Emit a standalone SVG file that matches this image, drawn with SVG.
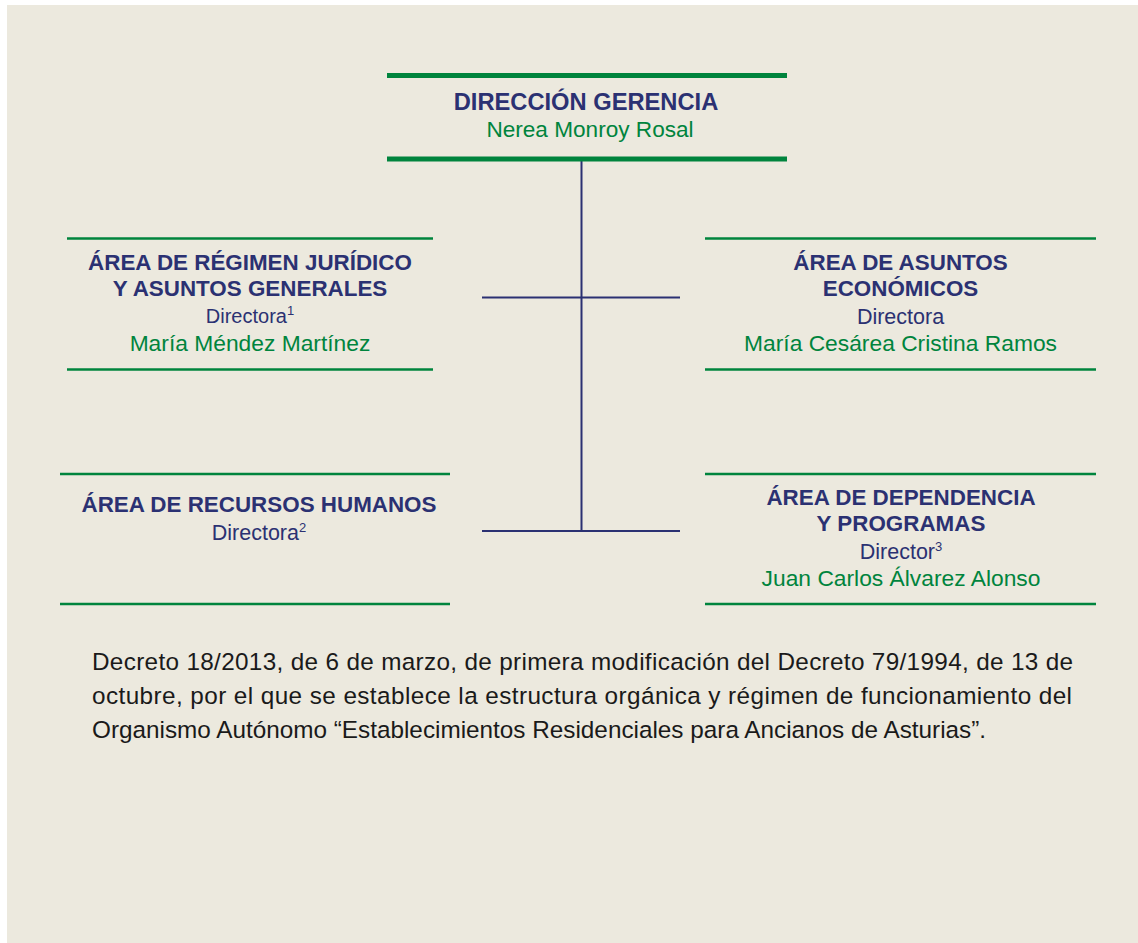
<svg xmlns="http://www.w3.org/2000/svg" width="1138" height="943" viewBox="0 0 1138 943">
<style>
.bg{fill:#ECE9DE}
.gthick{stroke:#00843D;stroke-width:5}
.gthin{stroke:#00843D;stroke-width:2.5}
.conn{stroke:#2B3172;stroke-width:2;fill:none}
text{font-family:"Liberation Sans",Arial,sans-serif;text-anchor:middle}
.h{font-weight:bold;fill:#2B3172;font-size:22.4px}
.r{fill:#2B3172;font-size:21.5px}
.n{fill:#00843D;font-size:22.8px}
.sup{font-size:13px}
.body{fill:#1A1A1A;font-size:24.3px;text-anchor:start}
</style>
<rect class="bg" x="7" y="5" width="1131" height="938"/>
<g id="connectors">
<line class="conn" x1="581.5" y1="161" x2="581.5" y2="531"/>
<line class="conn" x1="482" y1="297.5" x2="680" y2="297.5"/>
<line class="conn" x1="482" y1="531" x2="680" y2="531"/>
</g>
<g id="direccion">
<line class="gthick" x1="387" y1="75.5" x2="787" y2="75.5"/>
<line class="gthick" x1="387" y1="159" x2="787" y2="159"/>
<text class="h" x="586" y="110" style="font-size:23.7px">DIRECCIÓN GERENCIA</text>
<text class="n" x="590" y="137" style="font-size:22.6px">Nerea Monroy Rosal</text>
</g>
<g id="juridico">
<line class="gthin" x1="67" y1="238.5" x2="433" y2="238.5"/>
<line class="gthin" x1="67" y1="369.5" x2="433" y2="369.5"/>
<text class="h" x="250" y="270">ÁREA DE RÉGIMEN JURÍDICO</text>
<text class="h" x="250" y="296">Y ASUNTOS GENERALES</text>
<text class="r" x="250" y="323" style="font-size:20px">Directora<tspan class="sup" dy="-8">1</tspan></text>
<text class="n" x="250" y="351">María Méndez Martínez</text>
</g>
<g id="economicos">
<line class="gthin" x1="705" y1="238.5" x2="1096" y2="238.5"/>
<line class="gthin" x1="705" y1="369.5" x2="1096" y2="369.5"/>
<text class="h" x="900.5" y="270">ÁREA DE ASUNTOS</text>
<text class="h" x="900.5" y="296">ECONÓMICOS</text>
<text class="r" x="900.5" y="324">Directora</text>
<text class="n" x="900.5" y="351">María Cesárea Cristina Ramos</text>
</g>
<g id="rrhh">
<line class="gthin" x1="60" y1="474" x2="450" y2="474"/>
<line class="gthin" x1="60" y1="604" x2="450" y2="604"/>
<text class="h" x="259" y="512">ÁREA DE RECURSOS HUMANOS</text>
<text class="r" x="259" y="540">Directora<tspan class="sup" dy="-8">2</tspan></text>
</g>
<g id="dependencia">
<line class="gthin" x1="705" y1="474" x2="1096" y2="474"/>
<line class="gthin" x1="705" y1="604" x2="1096" y2="604"/>
<text class="h" x="901" y="505">ÁREA DE DEPENDENCIA</text>
<text class="h" x="901" y="531">Y PROGRAMAS</text>
<text class="r" x="901" y="559">Director<tspan class="sup" dy="-8">3</tspan></text>
<text class="n" x="901" y="586">Juan Carlos Álvarez Alonso</text>
</g>
<g id="nota">
<text class="body" x="92" y="670" textLength="981" lengthAdjust="spacing">Decreto 18/2013, de 6 de marzo, de primera modificación del Decreto 79/1994, de 13 de</text>
<text class="body" x="92" y="704" textLength="980" lengthAdjust="spacing">octubre, por el que se establece la estructura orgánica y régimen de funcionamiento del</text>
<text class="body" x="92" y="738">Organismo Autónomo “Establecimientos Residenciales para Ancianos de Asturias”.</text>
</g>
</svg>
